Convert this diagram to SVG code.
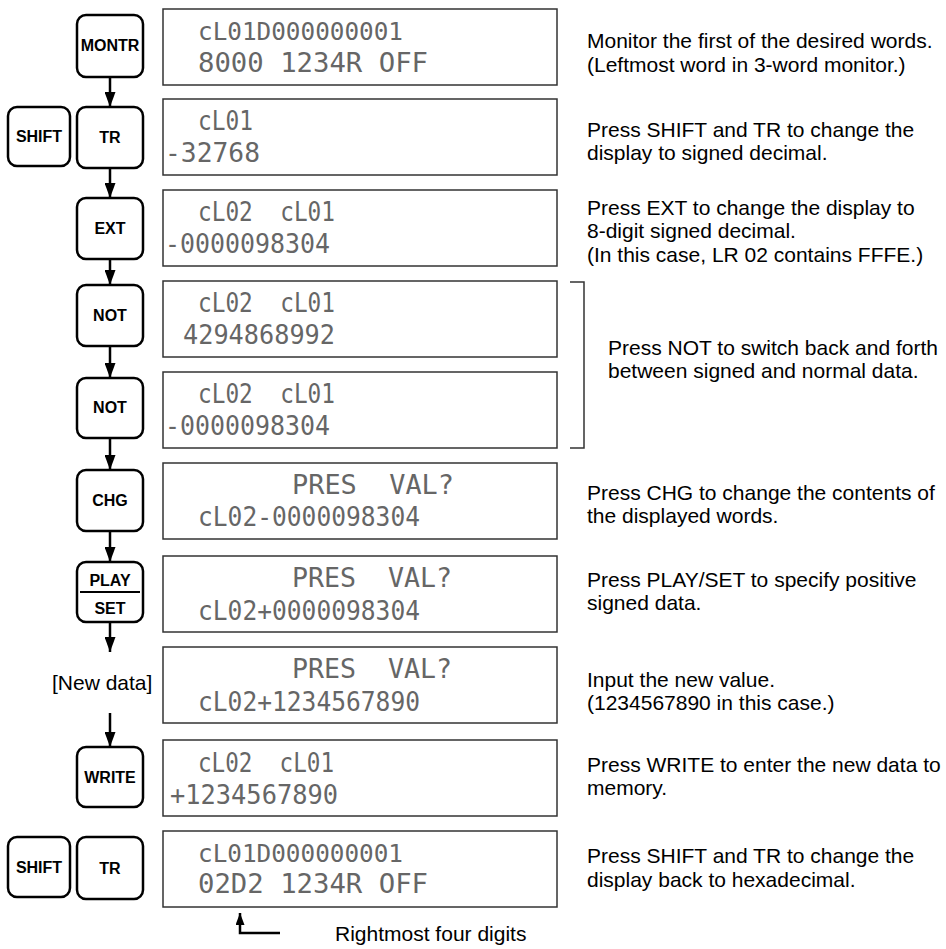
<svg xmlns="http://www.w3.org/2000/svg" width="946" height="949" viewBox="0 0 946 949">
<style>
.key{fill:#fff;stroke:#000;stroke-width:2.5}
.kt{font-family:"Liberation Sans",Arial,sans-serif;font-weight:bold;font-size:16px;fill:#000;text-anchor:middle}
.lcd{fill:#fff;stroke:#333;stroke-width:1.5}
.dm{font-family:"DejaVu Sans Mono",monospace;font-size:27px;fill:#666;white-space:pre}
.dms{font-size:24px}
.desc{font-family:"Liberation Sans",Arial,sans-serif;font-size:21px;fill:#000}
.con{stroke:#000;stroke-width:2.5;fill:none}
</style>
<defs>
<marker id="ah" markerUnits="userSpaceOnUse" markerWidth="15" markerHeight="11" refX="15" refY="5.5" orient="auto">
<path d="M0,0 L15,5.5 L0,11 z" fill="#000"/>
</marker>
<marker id="ahs" markerUnits="userSpaceOnUse" markerWidth="12" markerHeight="9" refX="12" refY="4.5" orient="auto">
<path d="M0,0 L12,4.5 L0,9 z" fill="#000"/>
</marker>
</defs>

<g id="connectors">
<line class="con" x1="110" y1="77" x2="110" y2="107" marker-end="url(#ah)"/>
<line class="con" x1="110" y1="168" x2="110" y2="198" marker-end="url(#ah)"/>
<line class="con" x1="110" y1="259" x2="110" y2="285" marker-end="url(#ah)"/>
<line class="con" x1="110" y1="346" x2="110" y2="378" marker-end="url(#ah)"/>
<line class="con" x1="110" y1="438" x2="110" y2="470" marker-end="url(#ah)"/>
<line class="con" x1="110" y1="531" x2="110" y2="562" marker-end="url(#ah)"/>
<line class="con" x1="110" y1="622" x2="110" y2="652" marker-end="url(#ah)"/>
<line class="con" x1="110" y1="713" x2="110" y2="747" marker-end="url(#ah)"/>
<path class="con" d="M280,933 H240 V913" stroke-width="2" marker-end="url(#ahs)"/>
<path d="M570,282 H584 V448 H570" fill="none" stroke="#333" stroke-width="1.5"/>
</g>

<g id="key-montr"><rect class="key" x="77" y="15" width="66" height="62" rx="9"/><text class="kt" x="110" y="51">MONTR</text></g>
<g id="key-shift1"><rect class="key" x="8" y="107" width="62" height="59" rx="9"/><text class="kt" x="39" y="142">SHIFT</text></g>
<g id="key-tr1"><rect class="key" x="77" y="107" width="66" height="61" rx="9"/><text class="kt" x="110" y="143">TR</text></g>
<g id="key-ext"><rect class="key" x="77" y="198" width="66" height="61" rx="9"/><text class="kt" x="110" y="234">EXT</text></g>
<g id="key-not1"><rect class="key" x="77" y="285" width="66" height="61" rx="9"/><text class="kt" x="110" y="321">NOT</text></g>
<g id="key-not2"><rect class="key" x="77" y="378" width="66" height="60" rx="9"/><text class="kt" x="110" y="413">NOT</text></g>
<g id="key-chg"><rect class="key" x="77" y="470" width="66" height="61" rx="9"/><text class="kt" x="110" y="506">CHG</text></g>
<g id="key-playset"><rect class="key" x="77" y="562" width="66" height="60" rx="9"/><text class="kt" x="110" y="586">PLAY</text><line x1="80" y1="592" x2="140" y2="592" stroke="#000" stroke-width="2"/><text class="kt" x="110" y="614">SET</text></g>
<g id="newdata"><text class="desc" x="52" y="690">[New data]</text></g>
<g id="key-write"><rect class="key" x="77" y="747" width="66" height="60" rx="9"/><text class="kt" x="110" y="783">WRITE</text></g>
<g id="key-shift2"><rect class="key" x="8" y="837" width="62" height="60" rx="9"/><text class="kt" x="39" y="873">SHIFT</text></g>
<g id="key-tr2"><rect class="key" x="77" y="837" width="66" height="62" rx="9"/><text class="kt" x="110" y="874">TR</text></g>

<g id="lcd1"><rect class="lcd" x="163" y="9" width="394" height="76"/>
<text class="dm dms" x="198" y="40" textLength="205" lengthAdjust="spacingAndGlyphs">cL01D000000001</text>
<text class="dm" x="198" y="72" textLength="230" lengthAdjust="spacingAndGlyphs">8000 1234R OFF</text></g>
<g id="lcd2"><rect class="lcd" x="163" y="99" width="394" height="76"/>
<text class="dm" x="198" y="130" textLength="55" lengthAdjust="spacingAndGlyphs">cL01</text>
<text class="dm" x="165" y="162" textLength="95" lengthAdjust="spacingAndGlyphs">-32768</text></g>
<g id="lcd3"><rect class="lcd" x="163" y="190" width="394" height="76"/>
<text class="dm" x="198" y="221" textLength="137" lengthAdjust="spacingAndGlyphs">cL02  cL01</text>
<text class="dm" x="165" y="253" textLength="165" lengthAdjust="spacingAndGlyphs">-0000098304</text></g>
<g id="lcd4"><rect class="lcd" x="163" y="281" width="394" height="76"/>
<text class="dm" x="198" y="312" textLength="137" lengthAdjust="spacingAndGlyphs">cL02  cL01</text>
<text class="dm" x="183" y="344" textLength="152" lengthAdjust="spacingAndGlyphs">4294868992</text></g>
<g id="lcd5"><rect class="lcd" x="163" y="372" width="394" height="76"/>
<text class="dm" x="198" y="403" textLength="137" lengthAdjust="spacingAndGlyphs">cL02  cL01</text>
<text class="dm" x="165" y="435" textLength="165" lengthAdjust="spacingAndGlyphs">-0000098304</text></g>
<g id="lcd6"><rect class="lcd" x="163" y="463" width="394" height="76"/>
<text class="dm" x="292" y="494" textLength="162" lengthAdjust="spacingAndGlyphs">PRES  VAL?</text>
<text class="dm" x="198" y="526" textLength="222" lengthAdjust="spacingAndGlyphs">cL02-0000098304</text></g>
<g id="lcd7"><rect class="lcd" x="163" y="556" width="394" height="76"/>
<text class="dm" x="292" y="587" textLength="160" lengthAdjust="spacingAndGlyphs">PRES  VAL?</text>
<text class="dm" x="198" y="620" textLength="222" lengthAdjust="spacingAndGlyphs">cL02+0000098304</text></g>
<g id="lcd8"><rect class="lcd" x="163" y="647" width="394" height="76"/>
<text class="dm" x="292" y="678" textLength="160" lengthAdjust="spacingAndGlyphs">PRES  VAL?</text>
<text class="dm" x="198" y="711" textLength="222" lengthAdjust="spacingAndGlyphs">cL02+1234567890</text></g>
<g id="lcd9"><rect class="lcd" x="163" y="740" width="394" height="76"/>
<text class="dm" x="198" y="772" textLength="136" lengthAdjust="spacingAndGlyphs">cL02  cL01</text>
<text class="dm" x="170" y="804" textLength="168" lengthAdjust="spacingAndGlyphs">+1234567890</text></g>
<g id="lcd10"><rect class="lcd" x="163" y="831" width="394" height="76"/>
<text class="dm dms" x="198" y="862" textLength="205" lengthAdjust="spacingAndGlyphs">cL01D000000001</text>
<text class="dm" x="198" y="893" textLength="230" lengthAdjust="spacingAndGlyphs">02D2 1234R OFF</text></g>

<g id="note-rightmost"><text class="desc" x="335" y="941">Rightmost four digits</text></g>

<g id="desc1"><text class="desc" x="587" y="48">Monitor the first of the desired words.</text><text class="desc" x="587" y="72">(Leftmost word in 3-word monitor.)</text></g>
<g id="desc2"><text class="desc" x="587" y="137">Press SHIFT and TR to change the</text><text class="desc" x="587" y="160">display to signed decimal.</text></g>
<g id="desc3"><text class="desc" x="587" y="215">Press EXT to change the display to</text><text class="desc" x="587" y="238">8-digit signed decimal.</text><text class="desc" x="587" y="262">(In this case, LR 02 contains FFFE.)</text></g>
<g id="desc4"><text class="desc" x="608" y="355">Press NOT to switch back and forth</text><text class="desc" x="608" y="378">between signed and normal data.</text></g>
<g id="desc5"><text class="desc" x="587" y="500">Press CHG to change the contents of</text><text class="desc" x="587" y="523">the displayed words.</text></g>
<g id="desc6"><text class="desc" x="587" y="587">Press PLAY/SET to specify positive</text><text class="desc" x="587" y="610">signed data.</text></g>
<g id="desc7"><text class="desc" x="587" y="687">Input the new value.</text><text class="desc" x="587" y="710">(1234567890 in this case.)</text></g>
<g id="desc8"><text class="desc" x="587" y="772">Press WRITE to enter the new data to</text><text class="desc" x="587" y="795">memory.</text></g>
<g id="desc9"><text class="desc" x="587" y="863">Press SHIFT and TR to change the</text><text class="desc" x="587" y="887">display back to hexadecimal.</text></g>
</svg>
